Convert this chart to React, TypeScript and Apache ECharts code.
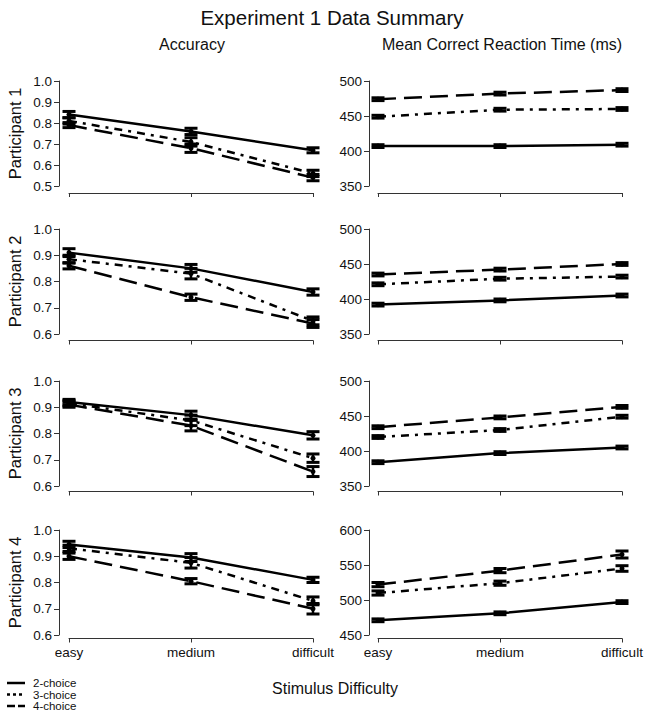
import React, { useEffect, useRef } from 'react';
import * as echarts from 'echarts';

const categories = ['easy', 'medium', 'difficult'];
const choiceNames = ['2-choice', '3-choice', '4-choice'];
const participantLabels = ['Participant 1', 'Participant 2', 'Participant 3', 'Participant 4'];

// Accuracy means: [2-choice, 3-choice, 4-choice] x [easy, medium, difficult]
const accP1 = [[0.84, 0.76, 0.67], [0.81, 0.71, 0.56], [0.79, 0.68, 0.54]];
const accP2 = [[0.91, 0.85, 0.76], [0.885, 0.83, 0.65], [0.86, 0.74, 0.64]];
const accP3 = [[0.92, 0.87, 0.793], [0.915, 0.85, 0.706], [0.91, 0.83, 0.655]];
const accP4 = [[0.945, 0.895, 0.81], [0.93, 0.875, 0.73], [0.9, 0.805, 0.7]];
// Accuracy error half-widths
const accErrP1 = [[0.015, 0.015, 0.012], [0.015, 0.02, 0.015], [0.012, 0.02, 0.015]];
const accErrP2 = [[0.015, 0.015, 0.012], [0.015, 0.02, 0.015], [0.012, 0.012, 0.015]];
const accErrP3 = [[0.01, 0.015, 0.014], [0.01, 0.02, 0.016], [0.01, 0.02, 0.019]];
const accErrP4 = [[0.012, 0.015, 0.01], [0.012, 0.02, 0.015], [0.012, 0.01, 0.02]];

// Mean correct RT (ms)
const rtP1 = [[407, 407, 409], [449, 459, 460], [474, 482, 487]];
const rtP2 = [[392, 398, 405], [421, 429, 432], [435, 442, 450]];
const rtP3 = [[384, 397, 405], [420, 430, 449], [434, 448, 463]];
const rtP4 = [[471, 481, 497], [510, 524, 545], [522, 542, 565]];
const rtErrP1 = [[2, 2, 2], [2, 2, 2], [2, 2, 2]];
const rtErrP2 = [[2, 2, 2], [2, 2, 2], [2, 2, 2]];
const rtErrP3 = [[2, 2, 2], [2, 2, 2], [2, 2, 2]];
const rtErrP4 = [[2, 2, 2], [3, 3, 4], [3, 3, 5]];

const accMins = [0.5, 0.6, 0.6, 0.6];
const accMaxs = [1.0, 1.0, 1.0, 1.0];
const rtMins = [350, 350, 350, 450];
const rtMaxs = [500, 500, 500, 600];

const FONT = '"Liberation Sans", Arial, Helvetica, sans-serif';
const INK = '#111';
const rowTops = [81, 229, 381, 530];
const panelH = 105;
const xOffsets = [7, 6.5, 5.5, 3.5];
const lineTypes: any[] = ['solid', [8, 6, 3, 6], [18, 8]];

export default function App() {
  const ref = useRef<HTMLDivElement>(null);
  useEffect(() => {
    if (!ref.current) return;
    const chart = echarts.init(ref.current, undefined, { renderer: 'svg' });
    const accMeans = [accP1, accP2, accP3, accP4];
    const accErrs = [accErrP1, accErrP2, accErrP3, accErrP4];
    const rtMeans = [rtP1, rtP2, rtP3, rtP4];
    const rtErrs = [rtErrP1, rtErrP2, rtErrP3, rtErrP4];

    const grids: any[] = [];
    const xAxes: any[] = [];
    const yAxes: any[] = [];
    const series: any[] = [];

    const errRender = (params: any, api: any) => {
      const x = api.value(0);
      const lo = api.coord([x, api.value(1)]);
      const hi = api.coord([x, api.value(2)]);
      const hw = 6.5;
      const st = { stroke: '#000', lineWidth: 2.5, fill: null };
      const cap = { stroke: '#000', lineWidth: 3, fill: null };
      return {
        type: 'group',
        children: [
          { type: 'line', shape: { x1: lo[0], y1: lo[1], x2: hi[0], y2: hi[1] }, style: st },
          { type: 'line', shape: { x1: lo[0] - hw, y1: lo[1], x2: lo[0] + hw, y2: lo[1] }, style: cap },
          { type: 'line', shape: { x1: hi[0] - hw, y1: hi[1], x2: hi[0] + hw, y2: hi[1] }, style: cap },
          { type: 'circle', shape: { cx: lo[0], cy: (lo[1] + hi[1]) / 2, r: 2.5 }, style: { fill: '#000' } },
        ],
      };
    };

    for (let r = 0; r < 4; r++) {
      for (let c = 0; c < 2; c++) {
        const k = grids.length;
        grids.push({ left: c === 0 ? 69 : 378, top: rowTops[r], width: 244, height: panelH });
        xAxes.push({
          type: 'category',
          gridIndex: k,
          data: categories,
          boundaryGap: false,
          position: 'bottom',
          offset: xOffsets[r],
          axisLine: { show: true, lineStyle: { color: '#333', width: 1 } },
          axisTick: { show: true, length: 4, lineStyle: { color: '#333' } },
          axisLabel: { show: r === 3, fontSize: 13.5, color: INK, fontFamily: FONT, margin: 7 },
          splitLine: { show: false },
        });
        const isAcc = c === 0;
        yAxes.push({
          type: 'value',
          gridIndex: k,
          min: isAcc ? accMins[r] : rtMins[r],
          max: isAcc ? accMaxs[r] : rtMaxs[r],
          interval: isAcc ? 0.1 : 50,
          offset: isAcc ? 10 : 9,
          axisLine: { show: true, lineStyle: { color: '#333', width: 1 } },
          axisTick: { show: true, length: 5, lineStyle: { color: '#333' } },
          axisLabel: {
            fontSize: 13.5,
            color: INK,
            fontFamily: FONT,
            margin: 7,
            formatter: (v: number) => (isAcc ? v.toFixed(1) : String(Math.round(v))),
          },
          splitLine: { show: false },
        });
        const means = isAcc ? accMeans[r] : rtMeans[r];
        const errs = isAcc ? accErrs[r] : rtErrs[r];
        const errData: any[] = [];
        for (let j = 0; j < 3; j++) {
          series.push({
            type: 'line',
            name: choiceNames[j],
            xAxisIndex: k,
            yAxisIndex: k,
            data: means[j],
            showSymbol: false,
            lineStyle: { color: '#000', width: 2.5, type: lineTypes[j] },
            silent: true,
          });
          for (let d = 0; d < 3; d++) {
            errData.push([d, means[j][d] - errs[j][d], means[j][d] + errs[j][d]]);
          }
        }
        series.push({
          type: 'custom',
          xAxisIndex: k,
          yAxisIndex: k,
          data: errData,
          encode: { x: 0, y: [1, 2] },
          renderItem: errRender,
          clip: false,
          silent: true,
          z: 3,
        });
      }
    }

    const graphics: any[] = [
      { type: 'text', x: 332, y: 17, style: { text: 'Experiment 1 Data Summary', font: `20.5px ${FONT}`, fill: INK, textAlign: 'center', textVerticalAlign: 'middle' } },
      { type: 'text', x: 192, y: 44, style: { text: 'Accuracy', font: `16px ${FONT}`, fill: INK, textAlign: 'center', textVerticalAlign: 'middle' } },
      { type: 'text', x: 502, y: 44, style: { text: 'Mean Correct Reaction Time (ms)', font: `16px ${FONT}`, fill: INK, textAlign: 'center', textVerticalAlign: 'middle' } },
      { type: 'text', x: 335, y: 688, style: { text: 'Stimulus Difficulty', font: `16px ${FONT}`, fill: INK, textAlign: 'center', textVerticalAlign: 'middle' } },
    ];
    for (let r = 0; r < 4; r++) {
      graphics.push({
        type: 'text',
        x: 15,
        y: rowTops[r] + panelH / 2,
        rotation: Math.PI / 2,
        style: { text: participantLabels[r], font: `16.5px ${FONT}`, fill: INK, textAlign: 'center', textVerticalAlign: 'middle' },
      });
    }
    const legendDash: any[] = [null, [3, 3], [8, 3]];
    for (let j = 0; j < 3; j++) {
      const y = 683 + j * 11.5;
      graphics.push({
        type: 'line',
        shape: { x1: 7, y1: y, x2: 25, y2: y },
        style: { stroke: '#000', lineWidth: 2.5, lineDash: legendDash[j] },
      });
      graphics.push({
        type: 'text',
        x: 33,
        y: y,
        style: { text: choiceNames[j], font: `11.5px ${FONT}`, fill: INK, textAlign: 'left', textVerticalAlign: 'middle' },
      });
    }

    chart.setOption({
      animation: false,
      backgroundColor: '#fff',
      grid: grids,
      xAxis: xAxes,
      yAxis: yAxes,
      series,
      graphic: graphics,
    });
    return () => chart.dispose();
  }, []);
  return <div ref={ref} style={{ position: 'fixed', left: 0, top: 0, width: 649, height: 716 }} />;
}
